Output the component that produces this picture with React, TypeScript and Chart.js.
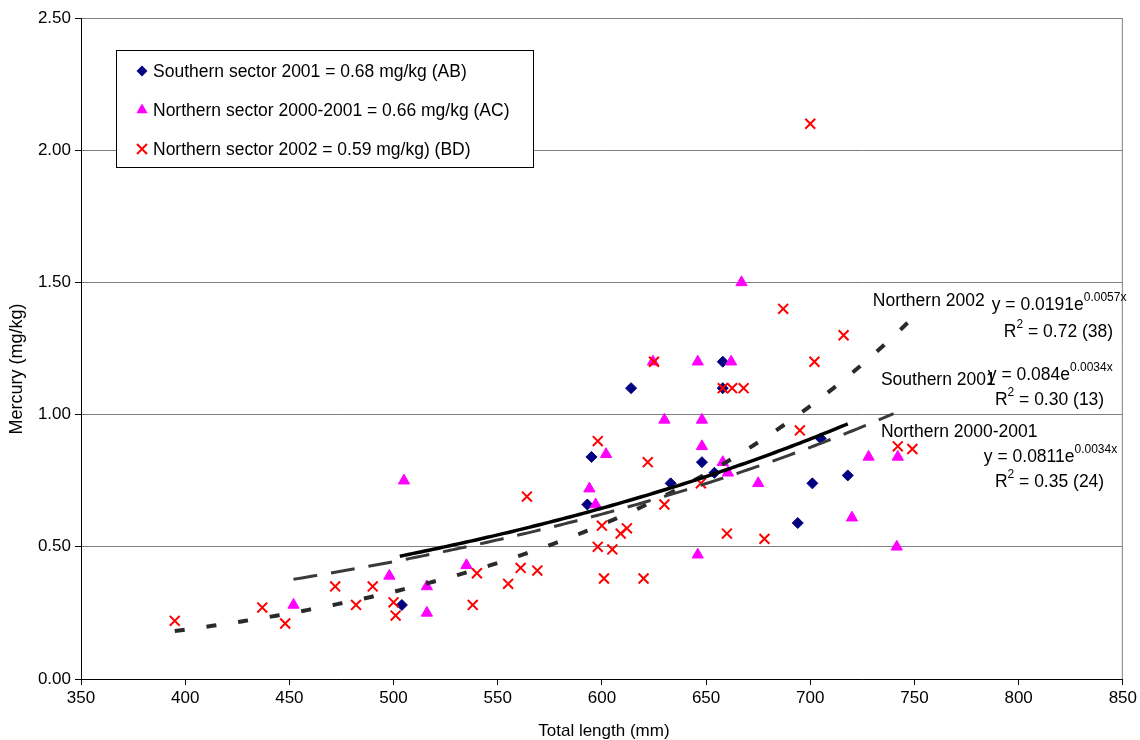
import React, { useEffect, useRef } from "react";
import { Chart, registerables } from "chart.js";

Chart.register(...registerables);

const FONT = '"Liberation Sans", Arial, Helvetica, sans-serif';

// Axis ranges and ticks
const xRange = [350, 850];
const xStep = 50;
const yRange = [0, 2.5];
const yStep = 0.5;

// Southern sector 2001
const southernLength = [504, 593, 595, 614, 633, 648, 654, 658, 658, 694, 701, 705, 718];
const southernMercury = [0.28, 0.66, 0.84, 1.1, 0.74, 0.82, 0.78, 1.2, 1.1, 0.59, 0.74, 0.91, 0.77];

// Northern sector 2000-2001
const north0001Length = [
  452, 498, 505, 516, 516, 535, 594, 597, 602, 624.5, 630, 646, 646, 648, 648, 658, 660.5, 662, 667, 675,
  720, 728, 741.5, 742,
];
const north0001Mercury = [
  0.28, 0.39, 0.75, 0.35, 0.25, 0.43, 0.72, 0.66, 0.85, 1.2, 0.98, 1.2, 0.47, 0.98, 0.88, 0.82, 0.78, 1.2,
  1.5, 0.74, 0.61, 0.84, 0.5, 0.84,
];

// Northern sector 2002
const north02Length = [
  395, 437, 448, 472, 482, 490, 500, 501, 538, 540, 555, 561, 564, 569, 598, 598, 600, 601, 605, 609, 612,
  620, 622, 625, 630, 647.5, 658, 660, 662.5, 668, 678, 687, 695, 700, 702, 716, 742, 749,
];
const north02Mercury = [
  0.22, 0.27, 0.21, 0.35, 0.28, 0.35, 0.29, 0.24, 0.28, 0.4, 0.36, 0.42, 0.69, 0.41, 0.9, 0.5, 0.58, 0.38,
  0.49, 0.55, 0.57, 0.38, 0.82, 1.2, 0.66, 0.74, 1.1, 0.55, 1.1, 1.1, 0.53, 1.4, 0.94, 2.1, 1.2, 1.3, 0.88,
  0.87,
];

// Exponential trend lines y = a * e^(b x), with the length span each covers
const trendNorth02 = { a: 0.0191, b: 0.0057, from: 395, to: 748 };
const trendSouthern = { a: 0.084, b: 0.0034, from: 503, to: 718 };
const trendNorth0001 = { a: 0.0811, b: 0.0034, from: 452, to: 740 };

const legendLabels = [
  "Southern sector 2001 = 0.68 mg/kg (AB)",
  "Northern sector 2000-2001 = 0.66 mg/kg (AC)",
  "Northern sector 2002 = 0.59 mg/kg) (BD)",
];

const xTitle = "Total length (mm)";
const yTitle = "Mercury (mg/kg)";

// Trend annotations: name, equation (base + exponent), R² line
const trendNames = ["Northern 2002", "Southern 2001", "Northern 2000-2001"];
const trendEqBase = ["y = 0.0191e", "y = 0.084e", "y = 0.0811e"];
const trendEqExp = ["0.0057x", "0.0034x", "0.0034x"];
const trendR2 = [" = 0.72 (38)", " = 0.30 (13)", " = 0.35 (24)"];

// Anchor positions (data units) for the annotation text
const nameAnchors = [
  [730, 1.411],
  [733.9, 1.112],
  [733.9, 0.915],
];
const eqAnchors = [
  [787.1, 1.396],
  [785.2, 1.131],
  [783.3, 0.821],
];
const r2Anchors = [
  [792.9, 1.2935],
  [788.6, 1.036],
  [788.6, 0.726],
];

function curve(t: { a: number; b: number; from: number; to: number }) {
  const pts: { x: number; y: number }[] = [];
  for (let x = t.from; x < t.to; x += 2) pts.push({ x, y: t.a * Math.exp(t.b * x) });
  pts.push({ x: t.to, y: t.a * Math.exp(t.b * t.to) });
  return pts;
}

function pairs(xs: number[], ys: number[]) {
  return xs.map((x, i) => ({ x, y: ys[i] }));
}

function drawRich(
  ctx: CanvasRenderingContext2D,
  x: number,
  y: number,
  parts: { text: string; sup?: boolean }[]
) {
  let cx = x;
  for (const p of parts) {
    ctx.font = p.sup ? `12px ${FONT}` : `17.5px ${FONT}`;
    ctx.fillText(p.text, cx, p.sup ? y - 9 : y);
    cx += ctx.measureText(p.text).width;
  }
}

function drawMarker(ctx: CanvasRenderingContext2D, kind: number, x: number, y: number) {
  ctx.save();
  if (kind === 0) {
    ctx.fillStyle = "#000080";
    ctx.beginPath();
    ctx.moveTo(x - 5.5, y);
    ctx.lineTo(x, y - 5.5);
    ctx.lineTo(x + 5.5, y);
    ctx.lineTo(x, y + 5.5);
    ctx.closePath();
    ctx.fill();
  } else if (kind === 1) {
    ctx.fillStyle = "#FF00FF";
    ctx.beginPath();
    ctx.moveTo(x, y - 6.5);
    ctx.lineTo(x + 5.6, y + 3.3);
    ctx.lineTo(x - 5.6, y + 3.3);
    ctx.closePath();
    ctx.fill();
  } else {
    ctx.strokeStyle = "#FF0000";
    ctx.lineWidth = 2;
    ctx.beginPath();
    ctx.moveTo(x - 5, y - 5);
    ctx.lineTo(x + 5, y + 5);
    ctx.moveTo(x + 5, y - 5);
    ctx.lineTo(x - 5, y + 5);
    ctx.stroke();
  }
  ctx.restore();
}

const overlayPlugin = {
  id: "overlay",
  afterDraw(chart: any) {
    const { ctx, chartArea: ca, scales } = chart;
    const sx = scales.x;
    const sy = scales.y;
    ctx.save();

    // right frame edge
    ctx.strokeStyle = "#808080";
    ctx.lineWidth = 1;
    ctx.beginPath();
    ctx.moveTo(ca.right - 0.5, ca.top);
    ctx.lineTo(ca.right - 0.5, ca.bottom);
    ctx.stroke();

    // axis titles
    ctx.fillStyle = "#000";
    ctx.textAlign = "center";
    ctx.textBaseline = "middle";
    ctx.font = `17px ${FONT}`;
    ctx.fillText(xTitle, (ca.left + ca.right) / 2 + 2, 731);
    ctx.save();
    ctx.translate(17, 369);
    ctx.rotate(-Math.PI / 2);
    ctx.font = `18px ${FONT}`;
    ctx.fillText(yTitle, 0, 0);
    ctx.restore();

    // legend box
    const bx = ca.left + 35;
    const by = ca.top + 32;
    const bw = 417;
    const bh = 117;
    ctx.fillStyle = "#fff";
    ctx.fillRect(bx, by, bw, bh);
    ctx.strokeStyle = "#000";
    ctx.strokeRect(bx + 0.5, by + 0.5, bw, bh);
    ctx.textAlign = "left";
    ctx.textBaseline = "alphabetic";
    ctx.fillStyle = "#000";
    ctx.font = `17.5px ${FONT}`;
    legendLabels.forEach((label, i) => {
      const ry = by + 21 + i * 39;
      drawMarker(ctx, i, bx + 26, ry);
      ctx.fillStyle = "#000";
      ctx.font = `17.5px ${FONT}`;
      ctx.fillText(label, bx + 37, ry + 6);
    });

    // trend annotations
    ctx.fillStyle = "#000";
    trendNames.forEach((name, i) => {
      ctx.font = `17.5px ${FONT}`;
      ctx.fillText(name, sx.getPixelForValue(nameAnchors[i][0]), sy.getPixelForValue(nameAnchors[i][1]));
      drawRich(ctx, sx.getPixelForValue(eqAnchors[i][0]), sy.getPixelForValue(eqAnchors[i][1]), [
        { text: trendEqBase[i] },
        { text: trendEqExp[i], sup: true },
      ]);
      drawRich(ctx, sx.getPixelForValue(r2Anchors[i][0]), sy.getPixelForValue(r2Anchors[i][1]), [
        { text: "R" },
        { text: "2", sup: true },
        { text: trendR2[i] },
      ]);
    });
    ctx.restore();
  },
};

export default function App() {
  const ref = useRef<HTMLCanvasElement>(null);

  useEffect(() => {
    const canvas = ref.current;
    if (!canvas) return;
    const chart = new Chart(canvas, {
      type: "scatter",
      data: {
        datasets: [
          {
            label: "Southern 2001 trend",
            data: curve(trendSouthern),
            showLine: true,
            borderColor: "#000",
            borderWidth: 3.5,
            pointRadius: 0,
            order: 0,
          } as any,
          {
            label: "Northern 2000-2001 trend",
            data: curve(trendNorth0001),
            showLine: true,
            borderColor: "#3a3a3a",
            borderWidth: 3,
            borderDash: [24, 14],
            pointRadius: 0,
            order: 0.1,
          },
          {
            label: "Northern 2002 trend",
            data: curve(trendNorth02),
            showLine: true,
            borderColor: "#2a2a2a",
            borderWidth: 4,
            borderDash: [10, 22],
            pointRadius: 0,
            order: 0.2,
          },
          {
            label: legendLabels[2],
            data: pairs(north02Length, north02Mercury),
            pointStyle: "crossRot",
            pointRadius: 7,
            borderColor: "#FF0000",
            backgroundColor: "#FF0000",
            borderWidth: 2,
            order: 1,
          },
          {
            label: legendLabels[1],
            data: pairs(north0001Length, north0001Mercury),
            pointStyle: "triangle",
            pointRadius: 6.5,
            borderColor: "#FF00FF",
            backgroundColor: "#FF00FF",
            borderWidth: 1,
            order: 2,
          },
          {
            label: legendLabels[0],
            data: pairs(southernLength, southernMercury),
            pointStyle: "rectRot",
            pointRadius: 5.5,
            borderColor: "#000080",
            backgroundColor: "#000080",
            borderWidth: 1,
            order: 3,
          },
        ],
      },
      options: {
        responsive: false,
        animation: false,
        devicePixelRatio: 1,
        layout: { padding: { left: 0, right: 17, top: 18, bottom: 0 } },
        plugins: {
          legend: { display: false },
          tooltip: { enabled: false },
        },
        font: { family: FONT },
        scales: {
          x: {
            type: "linear",
            min: xRange[0],
            max: xRange[1],
            ticks: {
              stepSize: xStep,
              color: "#000",
              font: { family: FONT, size: 17 },
              padding: 3,
              maxRotation: 0,
              autoSkip: false,
            },
            grid: { drawOnChartArea: false, drawTicks: true, tickLength: 6, tickColor: "#000" },
            border: { color: "#000", width: 1 },
            afterFit: (s: any) => {
              s.height = 61;
            },
          },
          y: {
            type: "linear",
            min: yRange[0],
            max: yRange[1],
            ticks: {
              stepSize: yStep,
              color: "#000",
              font: { family: FONT, size: 17 },
              padding: 4,
              callback: (v: any) => Number(v).toFixed(2),
            },
            grid: { color: "#808080", lineWidth: 1, tickLength: 6, tickColor: "#000" },
            border: { color: "#000", width: 1 },
            afterFit: (s: any) => {
              s.width = 81;
            },
          },
        },
      } as any,
      plugins: [overlayPlugin],
    });
    return () => chart.destroy();
  }, []);

  return (
    <div style={{ position: "fixed", left: 0, top: 0, width: 1140, height: 740, background: "#fff" }}>
      <canvas ref={ref} width={1140} height={740} style={{ display: "block" }} />
    </div>
  );
}
